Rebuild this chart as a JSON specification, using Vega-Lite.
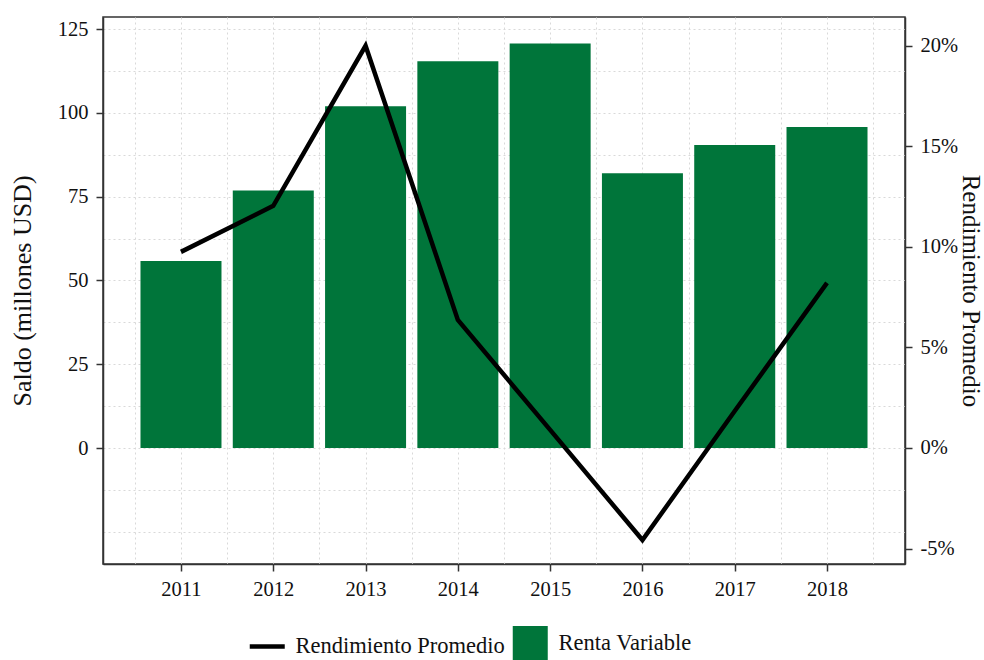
{
  "$schema": "https://vega.github.io/schema/vega-lite/v6.json",
  "width": 802,
  "height": 547,
  "autosize": {"type": "none"},
  "padding": {"left": 103, "top": 17, "right": 79, "bottom": 96},
  "background": "white",
  "config": {
    "font": "Liberation Serif",
    "view": {"stroke": "#333333", "strokeWidth": 1.5},
    "axis": {
      "labelFont": "Liberation Serif",
      "titleFont": "Liberation Serif",
      "labelFontSize": 20.5,
      "titleFontSize": 26,
      "titleFontWeight": "normal",
      "labelColor": "#111111",
      "titleColor": "#111111",
      "domainColor": "#333333",
      "domainWidth": 1.5,
      "tickColor": "#333333",
      "tickWidth": 1.5,
      "tickSize": 7,
      "labelPadding": 8,
      "gridColor": "#d9d9d9",
      "gridDash": [2, 3],
      "gridWidth": 1
    },
    "legend": {
      "labelFont": "Liberation Serif",
      "labelFontSize": 22.5,
      "labelColor": "#111111",
      "labelLimit": 400
    }
  },
  "data": {
    "values": [
      {"year": 2011, "saldo": 55.8, "rend": 0.0975},
      {"year": 2012, "saldo": 76.8, "rend": 0.1204},
      {"year": 2013, "saldo": 102.0, "rend": 0.2},
      {"year": 2014, "saldo": 115.4, "rend": 0.0637},
      {"year": 2015, "saldo": 120.7, "rend": 0.009},
      {"year": 2016, "saldo": 82.0, "rend": -0.0458},
      {"year": 2017, "saldo": 90.4, "rend": 0.0184},
      {"year": 2018, "saldo": 95.8, "rend": 0.0821}
    ]
  },
  "layer": [
    {
      "mark": {"type": "bar", "width": 81},
      "encoding": {
        "x": {
          "field": "year",
          "type": "quantitative",
          "scale": {"domain": [2010.155, 2018.845], "nice": false, "zero": false, "padding": 0},
          "axis": {
            "title": null,
            "values": [2010.5, 2011, 2011.5, 2012, 2012.5, 2013, 2013.5, 2014, 2014.5, 2015, 2015.5, 2016, 2016.5, 2017, 2017.5, 2018, 2018.5],
            "labelExpr": "abs(datum.value - round(datum.value)) < 0.01 ? format(datum.value, 'd') : ''",
            "tickOpacity": {"condition": {"test": "abs(datum.value - round(datum.value)) < 0.01", "value": 1}, "value": 0},
            "grid": true,
            "labelFlush": false,
            "labelOverlap": false
          }
        },
        "y": {
          "field": "saldo",
          "type": "quantitative",
          "scale": {"domain": [-34.6, 128.6], "nice": false, "zero": false},
          "axis": {
            "title": "Saldo (millones USD)",
            "values": [-25, -12.5, 0, 12.5, 25, 37.5, 50, 62.5, 75, 87.5, 100, 112.5, 125],
            "labelExpr": "datum.value >= 0 && datum.value % 25 == 0 ? format(datum.value, 'd') : ''",
            "tickOpacity": {"condition": {"test": "datum.value >= 0 && datum.value % 25 == 0", "value": 1}, "value": 0},
            "grid": true,
            "labelOverlap": false,
            "titlePadding": 22
          }
        },
        "color": {
          "datum": "Renta Variable",
          "type": "nominal",
          "scale": {"domain": ["Rendimiento Promedio", "Renta Variable"], "range": ["#000000", "#00753A"]},
          "legend": {
            "title": null,
            "orient": "none",
            "legendX": 153,
            "legendY": 615,
            "direction": "horizontal",
            "padding": 0,
            "symbolSize": 1225,
            "labelOffset": 17,
            "labelFontSize": 22.5,
            "labelLimit": 400,
            "labelBaseline": "middle",
            "columnPadding": 7,
            "encode": {
              "symbols": {
                "update": {
                  "shape": {"signal": "datum.label === 'Renta Variable' ? 'square' : 'stroke'"},
                  "strokeWidth": {"signal": "datum.label === 'Renta Variable' ? 0 : 4.5"},
                  "fill": {"signal": "datum.label === 'Renta Variable' ? '#00753A' : 'transparent'"},
                  "stroke": {"value": "#000000"},
                  "opacity": {"value": 1},
                  "fillOpacity": {"value": 1}
                }
              }
            }
          }
        }
      }
    },
    {
      "mark": {"type": "line", "strokeWidth": 4.5, "strokeJoin": "miter", "strokeCap": "butt"},
      "encoding": {
        "x": {"field": "year", "type": "quantitative"},
        "y": {
          "field": "rend",
          "type": "quantitative",
          "scale": {"domain": [-0.0577, 0.2143], "nice": false, "zero": false},
          "axis": {
            "title": "Rendimiento Promedio",
            "titleFontSize": 25,
            "orient": "right",
            "values": [-0.05, 0, 0.05, 0.1, 0.15, 0.2],
            "format": ".0%",
            "labelExpr": "replace(datum.label, '\u2212', '-')",
            "grid": false,
            "titlePadding": 0
          }
        },
        "color": {"datum": "Rendimiento Promedio", "type": "nominal"}
      }
    }
  ],
  "resolve": {"scale": {"y": "independent"}}
}
